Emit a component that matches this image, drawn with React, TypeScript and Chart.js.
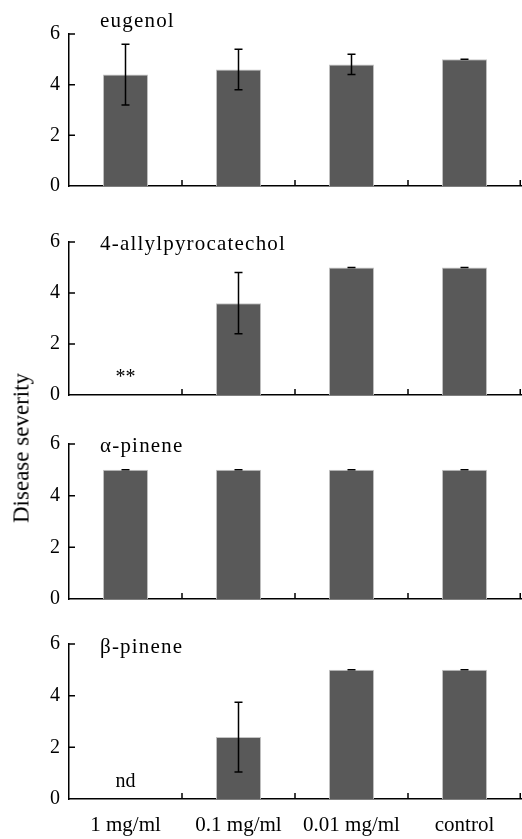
import React, { useEffect, useRef } from "react";
import { Chart, registerables } from "chart.js";

Chart.register(...registerables);

// ---------- data ----------
const categories = ["1 mg/ml", "0.1 mg/ml", "0.01 mg/ml", "control"];
const compounds = ["eugenol", "4-allylpyrocatechol", "α-pinene", "β-pinene"];

const eugenolMean = [4.4, 4.6, 4.8, 5.0];
const eugenolErr = [1.2, 0.8, 0.4, 0];
const eugenolNotes = ["", "", "", ""];

const allylMean = [null, 3.6, 5.0, 5.0];
const allylErr = [null, 1.2, 0, 0];
const allylNotes = ["**", "", "", ""];

const alphaMean = [5.0, 5.0, 5.0, 5.0];
const alphaErr = [0, 0, 0, 0];
const alphaNotes = ["", "", "", ""];

const betaMean = [null, 2.4, 5.0, 5.0];
const betaErr = [null, 1.35, 0, 0];
const betaNotes = ["nd", "", "", ""];

const yTicks = [0, 2, 4, 6];
const yLabel = "Disease severity";

// ---------- layout / style ----------
const W = 522;
const H = 839;
const AREA_LEFT = 69;
const PAD_TOP = 26;
const PAD_BOTTOM = 22;
const panelTops = [34, 242, 444, 644];
const panelBottoms = [186, 395, 599, 799];
const titleOffsets = [-7, 8, 8, 9];
const SERIF = "'Liberation Serif', 'Times New Roman', serif";
const BAR_COLOR = "#595959";

type Panel = {
  title: string;
  mean: (number | null)[];
  err: (number | null)[];
  notes: string[];
};

const panels: Panel[] = [
  { title: compounds[0], mean: eugenolMean, err: eugenolErr, notes: eugenolNotes },
  { title: compounds[1], mean: allylMean, err: allylErr, notes: allylNotes },
  { title: compounds[2], mean: alphaMean, err: alphaErr, notes: alphaNotes },
  { title: compounds[3], mean: betaMean, err: betaErr, notes: betaNotes },
];

const decorPlugin = {
  id: "decor",
  afterDatasetsDraw(chart: any, _args: any, opts: any) {
    const { ctx, chartArea, scales } = chart;
    const x = scales.x;
    const y = scales.y;
    ctx.save();
    // inside tick marks
    ctx.strokeStyle = "#000";
    ctx.lineWidth = 1.5;
    ctx.beginPath();
    yTicks.forEach((v) => {
      if (v === 0) return;
      const py = y.getPixelForValue(v);
      ctx.moveTo(chartArea.left, py);
      ctx.lineTo(chartArea.left + 6, py);
    });
    const n = categories.length;
    for (let i = 0; i < n; i++) {
      const px =
        i < n - 1
          ? (x.getPixelForValue(i) + x.getPixelForValue(i + 1)) / 2
          : chartArea.right - 0.75;
      ctx.moveTo(px, chartArea.bottom);
      ctx.lineTo(px, chartArea.bottom - 6);
    }
    ctx.stroke();

    // error bars
    const meta = chart.getDatasetMeta(0);
    const mean: (number | null)[] = opts.mean;
    const err: (number | null)[] = opts.err;
    ctx.lineWidth = 1.5;
    ctx.beginPath();
    meta.data.forEach((_bar: any, i: number) => {
      const m = mean[i];
      const e = err[i];
      if (m == null || e == null) return;
      const cx = x.getPixelForValue(i);
      const top = y.getPixelForValue(m + e);
      const bot = y.getPixelForValue(m - e);
      ctx.moveTo(cx, top);
      ctx.lineTo(cx, bot);
      ctx.moveTo(cx - 4, top);
      ctx.lineTo(cx + 4, top);
      if (e > 0) {
        ctx.moveTo(cx - 4, bot);
        ctx.lineTo(cx + 4, bot);
      }
    });
    ctx.stroke();

    // notes (** / nd)
    ctx.fillStyle = "#000";
    ctx.font = `20px ${SERIF}`;
    ctx.textAlign = "center";
    ctx.textBaseline = "alphabetic";
    (opts.notes as string[]).forEach((t, i) => {
      if (!t) return;
      ctx.fillText(t, x.getPixelForValue(i), y.getPixelForValue(0) - 12);
    });

    // panel title
    ctx.font = `21px ${SERIF}`;
    (ctx as any).letterSpacing = "1.2px";
    ctx.textAlign = "left";
    ctx.fillText(opts.title, 100, chartArea.top + opts.titleOffset);
    ctx.restore();
  },
};

function PanelChart({ index }: { index: number }) {
  const ref = useRef<HTMLCanvasElement | null>(null);
  const p = panels[index];
  const isLast = index === panels.length - 1;
  const areaH = panelBottoms[index] - panelTops[index];
  const canvasTop = panelTops[index] - PAD_TOP;
  const canvasH = isLast ? H - canvasTop : PAD_TOP + areaH + PAD_BOTTOM;

  useEffect(() => {
    if (!ref.current) return;
    const chart = new Chart(ref.current, {
      type: "bar",
      data: {
        labels: categories,
        datasets: [
          {
            data: p.mean as any,
            backgroundColor: BAR_COLOR,
            borderColor: "#c4c4c4",
            borderWidth: 1,
            categoryPercentage: 1,
            barPercentage: 0.4,
          },
        ],
      },
      options: {
        responsive: false,
        animation: false,
        events: [],
        layout: {
          padding: { top: PAD_TOP, bottom: isLast ? 0 : PAD_BOTTOM, left: 0, right: 1 },
        },
        plugins: {
          legend: { display: false },
          tooltip: { enabled: false },
          decor: {
            mean: p.mean,
            err: p.err,
            notes: p.notes,
            title: p.title,
            titleOffset: titleOffsets[index],
          },
        } as any,
        scales: {
          x: {
            grid: { display: false, drawTicks: false },
            border: { display: true, color: "#000", width: 1.5 },
            ticks: {
              display: isLast,
              color: "#000",
              padding: 14,
              font: { family: SERIF, size: 21 },
              maxRotation: 0,
              autoSkip: false,
            },
            afterFit: (scale: any) => {
              scale.height = isLast ? canvasH - PAD_TOP - areaH : 0;
            },
          },
          y: {
            min: 0,
            max: 6,
            afterBuildTicks: (scale: any) => {
              scale.ticks = yTicks.map((v) => ({ value: v }));
            },
            grid: { display: false, drawTicks: false },
            border: { display: true, color: "#000", width: 1.5 },
            ticks: {
              color: "#000",
              padding: 9,
              font: { family: SERIF, size: 20 },
            },
            afterFit: (scale: any) => {
              scale.width = AREA_LEFT;
            },
          },
        },
      },
      plugins: [decorPlugin],
    });
    return () => chart.destroy();
  }, [index]);

  return (
    <canvas
      ref={ref}
      width={W}
      height={canvasH}
      style={{ position: "absolute", left: 0, top: canvasTop, width: W, height: canvasH }}
    />
  );
}

export default function App() {
  return (
    <div
      style={{
        position: "absolute",
        left: 0,
        top: 0,
        width: W,
        height: H,
        background: "#fff",
        overflow: "hidden",
      }}
    >
      {panels.map((_, i) => (
        <PanelChart key={i} index={i} />
      ))}
      <div
        style={{
          position: "absolute",
          left: 21,
          top: 448,
          transform: "translate(-50%, -50%) rotate(-90deg)",
          whiteSpace: "nowrap",
          fontFamily: SERIF,
          fontSize: 23,
          color: "#000",
          lineHeight: 1,
        }}
      >
        {yLabel}
      </div>
    </div>
  );
}
